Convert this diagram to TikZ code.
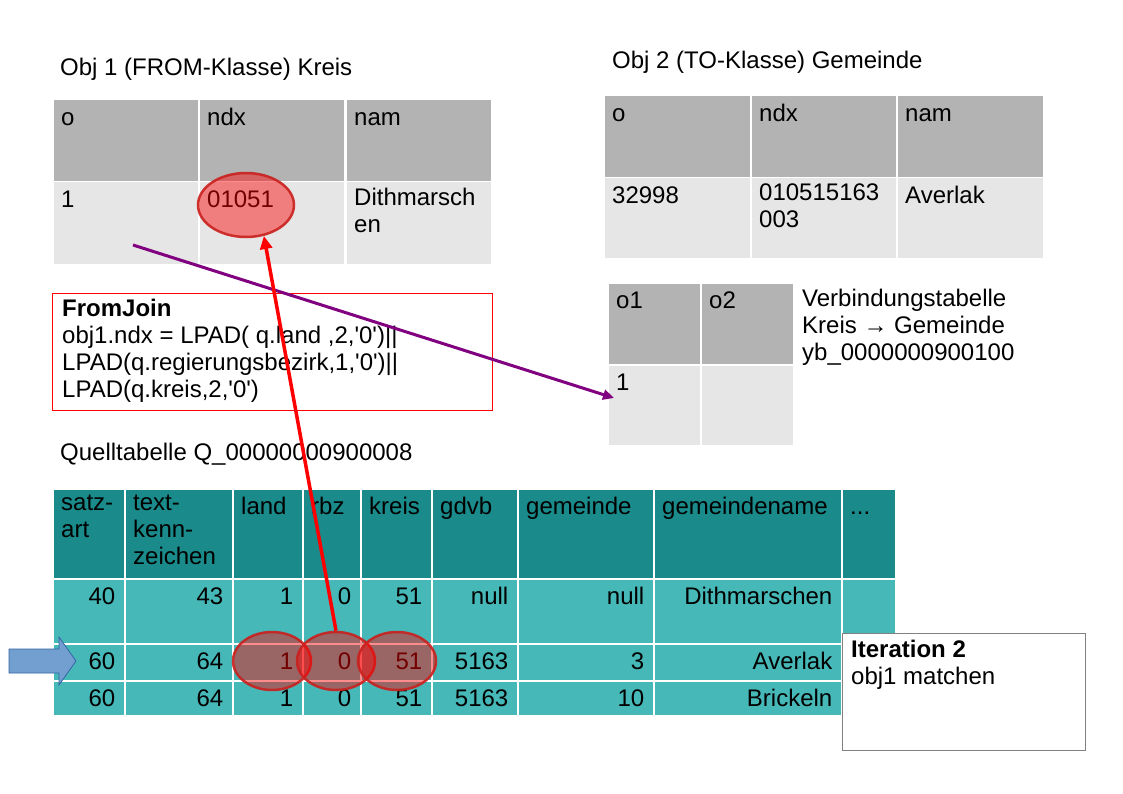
\documentclass[tikz,border=0pt]{standalone}
\usepackage{fontspec}
\setmainfont{Liberation Sans}[Ligatures=TeXOff]
\usetikzlibrary{shapes.geometric,arrows.meta}

\definecolor{headgray}{HTML}{B3B3B3}
\definecolor{bodygray}{HTML}{E6E6E6}
\definecolor{headteal}{HTML}{1A8A8A}
\definecolor{bodyteal}{HTML}{47B8B8}
\definecolor{ovalred}{HTML}{C9211E}
\definecolor{shaftblue}{HTML}{729FCF}
\definecolor{edgeblue}{HTML}{3465A4}
\definecolor{joinpurple}{HTML}{800080}

\tikzset{
  txt/.style={font=\fontsize{24}{27}\selectfont, inner sep=0pt, align=left,
    execute at begin node=\strut, anchor=north west},
  lefttext/.style={txt, xshift=9pt, yshift=-7pt},
  righttext/.style={txt, anchor=north east, xshift=-10pt, yshift=-7pt},
  tabcell/.style={draw=white, line width=1.5pt, fill=#1, anchor=north west, inner sep=0pt},
  cellsize/.style 2 args={minimum width=#1, minimum height=#2},
  box/.style={draw=#1, line width=1pt, anchor=north west, inner sep=0pt},
  oval/.style={ellipse, draw=ovalred, draw opacity=0.9, line width=2.5pt,
    fill=red, fill opacity=0.45, inner sep=0pt},
  matcharrow/.style={draw=red, line width=3.5pt, -{Triangle[length=13pt,width=12pt]}},
  joinarrow/.style={draw=joinpurple, line width=3pt, -{Triangle[length=11pt,width=10pt]}},
  rowarrow/.style={draw=edgeblue, line width=0.8pt, fill=shaftblue}
}

\begin{document}
\begin{tikzpicture}[x=1pt,y=-1pt]
  \useasboundingbox (0,0) rectangle (1123,794);

  % Obj 1
  \node[txt] (title1) at (60,56) {Obj 1 (FROM-Klasse) Kreis};
  \foreach \x/\hd/\bd [count=\i] in {52/o/1, 198/ndx/01051, 345/nam/{Dithmarsch\\en}} {
    \node[tabcell=headgray, cellsize={146}{82}, label={[lefttext]north west:\hd}] (k-h\i) at (\x,99) {};
    \node[tabcell=bodygray, cellsize={146}{83}, label={[lefttext]north west:\bd}] (k-b\i) at (\x,181) {};
  }

  % Obj 2
  \node[txt] (title2) at (612,49) {Obj 2 (TO-Klasse) Gemeinde};
  \foreach \x/\hd/\bd [count=\i] in {603/o/32998, 750/ndx/{010515163\\003}, 896/nam/Averlak} {
    \node[tabcell=headgray, cellsize={147}{82}, label={[lefttext]north west:\hd}] (g-h\i) at (\x,95) {};
    \node[tabcell=bodygray, cellsize={147}{81}, label={[lefttext]north west:\bd}] (g-b\i) at (\x,177) {};
  }

  % Verbindungstabelle
  \foreach \x/\hd/\bd [count=\i] in {607/o1/1, 700/o2/{}} {
    \node[tabcell=headgray, cellsize={93}{82}, label={[lefttext]north west:\hd}] (v-h\i) at (\x,282) {};
    \node[tabcell=bodygray, cellsize={93}{81}, label={[lefttext]north west:\bd}] (v-b\i) at (\x,364) {};
  }
  \node[txt] (vtitle) at (802,289) {Verbindungstabelle\\Kreis → Gemeinde\\yb\_0000000900100};

  % FromJoin
  \node[box=red, cellsize={440}{117},
    label={[txt, xshift=10pt, yshift=-6pt]north west:{\textbf{FromJoin}\\obj1.ndx = LPAD( q.land ,2,'0')||\\LPAD(q.regierungsbezirk,1,'0')||\\LPAD(q.kreis,2,'0')}}]
    (fromjoin) at (52,293) {};

  % Quelltabelle
  \node[txt] (qtitle) at (60,441) {Quelltabelle Q\_00000000900008};
  \foreach \x/\w/\hd/\ra/\rb/\rc [count=\i] in {
      52/72/{satz-\\art}/40/60/60,
      124/108/{text-\\kenn-\\zeichen}/43/64/64,
      232/70/land/1/1/1,
      302/58/rbz/0/0/0,
      360/71/kreis/51/51/51,
      431/86/gdvb/null/5163/5163,
      517/136/gemeinde/null/3/10,
      653/188/gemeindename/Dithmarschen/Averlak/Brickeln,
      841/54/{...}/{}/{}/{}} {
    \node[tabcell=headteal, cellsize={\w}{90}, label={[lefttext]north west:\hd}] (q-h\i) at (\x,488) {};
    \node[tabcell=bodyteal, cellsize={\w}{65}, label={[righttext]north east:\ra}] (q-a\i) at (\x,578) {};
    \node[tabcell=bodyteal, cellsize={\w}{37}, label={[righttext]north east:\rb}] (q-b\i) at (\x,643) {};
    \node[tabcell=bodyteal, cellsize={\w}{35}, label={[righttext]north east:\rc}] (q-c\i) at (\x,680) {};
  }

  % current row
  \draw[rowarrow] (9,649) -- (59,649) -- (59,637) -- (76,661) -- (59,685) -- (59,673) -- (9,673) -- cycle;

  % matched values
  \node[oval, cellsize={96}{64}] (ndxoval) at (246,205) {};
  \node[oval, cellsize={78}{58}] (landoval) at (272,661) {};
  \node[oval, cellsize={78}{58}] (rbzoval) at (336,661) {};
  \node[oval, cellsize={78}{58}] (kreisoval) at (397,661) {};

  \coordinate (joinstart) at (133,245);
  \coordinate (jointip) at (614,398);
  \draw[joinarrow] (joinstart) -- (jointip);
  \draw[matcharrow] (rbzoval.north) -- (ndxoval.-60);

  % Iteration
  \node[box=gray, fill=white, cellsize={243}{117},
    label={[txt, xshift=9pt, yshift=-7pt]north west:{\textbf{Iteration 2}\\obj1 matchen}}]
    (iterbox) at (842,633) {};
\end{tikzpicture}
\end{document}
